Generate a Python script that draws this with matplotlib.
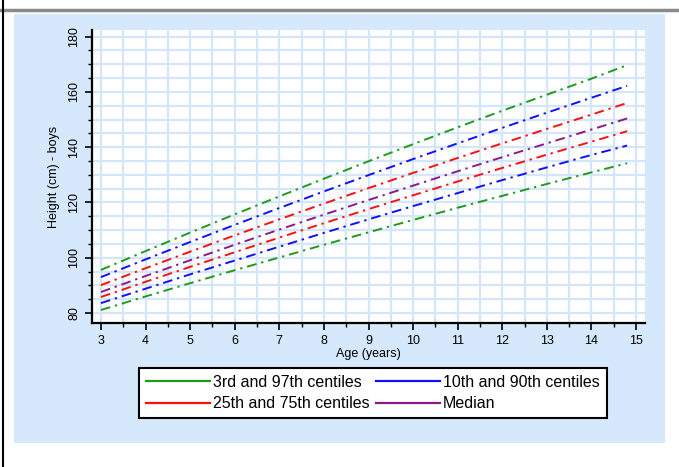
import matplotlib

matplotlib.use("Agg")

import matplotlib.pyplot as plt
from matplotlib.lines import Line2D
from matplotlib.patches import Rectangle
import numpy as np

plt.rcParams["font.family"] = ["Liberation Sans", "DejaVu Sans"]

ages = [3, 4, 5, 6, 7, 8, 9, 10, 11, 12, 13, 14, 14.8]
c97 = [95.6, 102.4, 109.1, 115.7, 122.2, 128.6, 134.9, 141.1, 147.2, 153.2, 159.0, 164.8, 169.7]
c90 = [93.0, 99.4, 105.7, 111.9, 118.0, 124.0, 129.9, 135.7, 141.4, 147.0, 152.5, 157.9, 162.2]
c75 = [90.1, 96.2, 102.2, 108.1, 113.9, 119.6, 125.2, 130.7, 136.1, 141.4, 146.6, 151.8, 156.0]
c50 = [87.6, 93.4, 99.1, 104.7, 110.2, 115.6, 120.9, 126.1, 131.3, 136.4, 141.4, 146.4, 150.4]
c25 = [85.8, 91.3, 96.7, 102.0, 107.3, 112.5, 117.6, 122.6, 127.6, 132.5, 137.3, 142.0, 145.8]
c10 = [83.6, 88.8, 94.0, 99.0, 104.0, 109.0, 113.9, 118.7, 123.4, 128.1, 132.7, 137.2, 140.6]
c03 = [81.1, 86.0, 90.8, 95.5, 100.1, 104.7, 109.2, 113.7, 118.1, 122.4, 126.7, 130.9, 134.2]

x_ticks = list(range(3, 16))
y_ticks = [80, 100, 120, 140, 160, 180]

GREEN = "#1f9a1f"
BLUE = "#1010ff"
RED = "#ff1010"
PURPLE = "#8a1a8a"
PANEL = "#d6e8fb"
GRID = "#d3e6fb"

fig = plt.figure(figsize=(6.79, 4.67), dpi=100)
fig.patch.set_facecolor("white")

# light blue panel and the frame lines around the screenshot
fig.patches.append(Rectangle((14 / 679, 1 - 443 / 467), 651 / 679, 429 / 467,
                             transform=fig.transFigure, facecolor=PANEL, edgecolor="none", zorder=-10))
fig.lines.append(Line2D([0, 1], [1 - 10 / 467] * 2, transform=fig.transFigure, color="#8a8a8a", lw=2.5))
fig.lines.append(Line2D([3 / 679] * 2, [0, 1], transform=fig.transFigure, color="black", lw=1.5))

ax = fig.add_axes([92 / 679, 1 - 323 / 467, 553 / 679, 293 / 467])
ax.set_facecolor("white")

ls = (0, (5, 2.5, 1.2, 2.5))
series = [c97, c03, c90, c10, c75, c25, c50]
colors = [GREEN, GREEN, BLUE, BLUE, RED, RED, PURPLE]
for vals, col in zip(series, colors):
    ax.plot(ages, vals, color=col, lw=1.4, linestyle=ls, zorder=3)

ax.set_xlim(2.8, 15.2)
ax.set_ylim(76.4, 182.4)
ax.set_xticks(x_ticks)
ax.set_xticks(np.arange(3.5, 15, 1.0), minor=True)
ax.set_yticks(y_ticks)
ax.set_yticks([v for v in range(80, 181, 5) if v % 20], minor=True)
ax.set_yticklabels([str(v) for v in y_ticks], rotation=90, va="center")
ax.grid(True, which="both", color=GRID, lw=1.6, zorder=0)
ax.set_axisbelow(True)

for side in ("top", "right"):
    ax.spines[side].set_visible(False)
for side in ("left", "bottom"):
    ax.spines[side].set_linewidth(1.6)
ax.tick_params(which="major", length=5, width=1.2, labelsize=9, direction="out")
ax.tick_params(which="minor", length=3, width=1.0, direction="out")

ax.set_xlabel("Age (years)", fontsize=9, labelpad=1)
ax.set_ylabel("Height (cm) - boys", fontsize=9, labelpad=6)

handles = [Line2D([], [], color=GREEN, lw=1.6),
           Line2D([], [], color=RED, lw=1.6),
           Line2D([], [], color=BLUE, lw=1.6),
           Line2D([], [], color=PURPLE, lw=1.6)]
labels = ["3rd and 97th centiles", "25th and 75th centiles",
          "10th and 90th centiles", "Median"]
leg = fig.legend(handles, labels, ncol=2, loc="center",
                 bbox_to_anchor=(373 / 679, 1 - 393 / 467),
                 fontsize=11.5, frameon=True, fancybox=False,
                 handlelength=4.0, handletextpad=0.2, columnspacing=0.4,
                 labelspacing=0.4, borderpad=0.45)
leg.get_frame().set_edgecolor("black")
leg.get_frame().set_linewidth(1.5)
leg.get_frame().set_facecolor("white")
leg.get_frame().set_alpha(1)

fig.savefig("out.png", dpi=100)
